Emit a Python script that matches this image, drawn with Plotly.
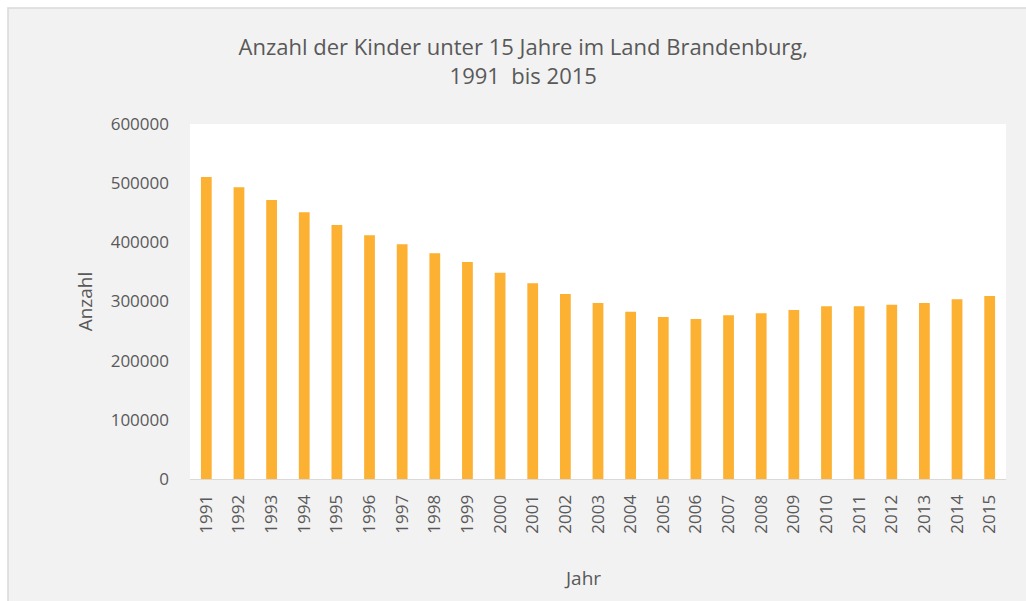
import plotly.graph_objects as go

years = [str(y) for y in range(1991, 2016)]
anzahl = [510400, 493000, 471500, 450700, 429300, 411800, 396600, 381400, 366800,
          348700, 330700, 312700, 297500, 282800, 273800, 270400, 276600, 280000,
          285600, 291800, 291800, 294600, 297500, 303700, 309300]
y_ticks = [0, 100000, 200000, 300000, 400000, 500000, 600000]

W, H = 1026, 601
L, R, T, B = 190, 20, 124, 122
pw, ph = W - L - R, H - T - B

def px_x(x):
    return (x - L) / pw

def px_y(y):
    return (H - B - y) / ph

font = "Open Sans, Liberation Sans, sans-serif"
col = "#595959"

fig = go.Figure(go.Bar(x=years, y=anzahl, marker=dict(color="#fdb133", line=dict(width=0)),
                       width=0.33))

fig.update_layout(
    width=W, height=H,
    margin=dict(l=L, r=R, t=T, b=B, autoexpand=False),
    paper_bgcolor="white", plot_bgcolor="white",
    showlegend=False,
    title=dict(text="Anzahl der Kinder unter 15 Jahre im Land Brandenburg,<br>1991  bis 2015",
               x=0.51, xanchor="center", y=1 - 55 / H, yanchor="middle",
               font=dict(family=font, size=22, color=col)),
    font=dict(family=font, color=col),
    shapes=[
        dict(type="rect", xref="paper", yref="paper", layer="below",
             x0=px_x(8), x1=px_x(1040), y0=px_y(640), y1=px_y(8),
             fillcolor="#f2f2f2", line=dict(color="#d9d9d9", width=1.5)),
        dict(type="rect", xref="paper", yref="paper", layer="below",
             x0=0, x1=1, y0=0, y1=1, fillcolor="white", line=dict(width=0)),
    ],
    annotations=[
        dict(text="Jahr", xref="paper", yref="paper", x=px_x(582), y=px_y(578),
             xanchor="center", yanchor="middle", showarrow=False,
             font=dict(family=font, size=19, color=col)),
    ],
)

fig.update_xaxes(
    tickangle=-90, tickfont=dict(size=17, color=col, family=font),
    showline=True, linecolor="#d9d9d9", linewidth=1, ticks="",
    ticklabelstandoff=8, showgrid=False,
)
fig.update_yaxes(
    range=[0, 600000], tickvals=y_ticks, ticktext=[str(v) for v in y_ticks],
    tickfont=dict(size=17, color=col, family=font), showgrid=False, zeroline=False,
    ticks="", ticklabelstandoff=20,
    title=dict(text="Anzahl", font=dict(size=19, color=col), standoff=13),
)

fig.write_html("out.html", config={"displayModeBar": False},
               post_script="document.body.style.margin='0';")
